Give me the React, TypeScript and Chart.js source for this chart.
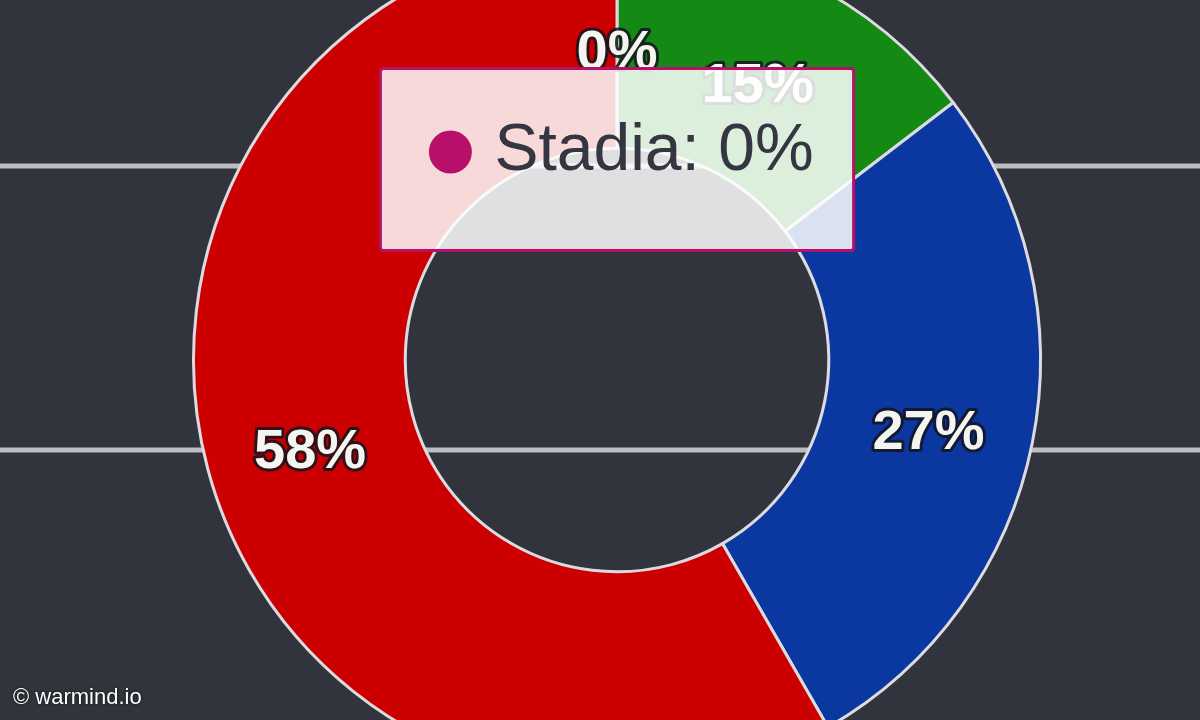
import React, { useEffect, useRef } from "react";
import { Chart, registerables } from "chart.js";

Chart.register(...registerables);

// ---- data ----
const platforms = ["Xbox", "PlayStation", "Steam", "Stadia"];
const shares = [14.6, 27.1, 58.3, 0];
const sliceColors = ["#148a14", "#0a37a0", "#cc0000", "#b8106a"];
const activePlatform = "Stadia";
const watermarkText = "© warmind.io";

const BG = "#32343d";

// background horizontal rules (canvas pixel rows), drawn beneath the ring
const backgroundRules = {
  id: "backgroundRules",
  beforeDatasetsDraw(chart: any) {
    const { ctx, width } = chart;
    const rows = [231, 515];
    ctx.save();
    ctx.strokeStyle = "#bcbcc2";
    ctx.lineWidth = 5;
    rows.forEach((y) => {
      ctx.beginPath();
      ctx.moveTo(0, y);
      ctx.lineTo(width, y);
      ctx.stroke();
    });
    ctx.restore();
  },
};

// percentage labels at the centre of each arc
const sliceLabels = {
  id: "sliceLabels",
  afterDatasetsDraw(chart: any) {
    const { ctx } = chart;
    const meta = chart.getDatasetMeta(0);
    const values = chart.data.datasets[0].data as number[];
    ctx.save();
    ctx.font = "bold 56px 'Liberation Sans', Arial, sans-serif";
    ctx.textAlign = "center";
    ctx.textBaseline = "middle";
    meta.data.forEach((arc: any, i: number) => {
      const p = arc.tooltipPosition();
      const text = `${Math.round(values[i])}%`;
      const y = p.y + 11;
      ctx.lineJoin = "round";
      ctx.lineWidth = 6;
      ctx.strokeStyle = "rgba(20,20,30,0.85)";
      ctx.strokeText(text, p.x, y);
      ctx.fillStyle = "#f4f4f0";
      ctx.fillText(text, p.x, y);
    });
    ctx.restore();
  },
};

function DoughnutChart() {
  const ref = useRef<HTMLCanvasElement | null>(null);

  useEffect(() => {
    document.body.style.margin = "0";
    document.body.style.background = BG;
    const canvas = ref.current;
    if (!canvas) return;
    const chart = new Chart(canvas, {
      type: "doughnut",
      data: {
        labels: platforms,
        datasets: [
          {
            data: shares,
            backgroundColor: sliceColors,
            hoverBackgroundColor: sliceColors,
            borderColor: "#dcdce0",
            hoverBorderColor: "#dcdce0",
            borderWidth: 3,
            hoverBorderWidth: 3,
            hoverOffset: 0,
          },
        ],
      },
      options: {
        responsive: false,
        animation: false,
        devicePixelRatio: 1,
        cutout: "50%",
        layout: { padding: 0 },
        events: [],
        plugins: {
          legend: { display: false },
          tooltip: {
            enabled: true,
            yAlign: "top",
            xAlign: "center",
            backgroundColor: "rgba(255,255,255,0.85)",
            borderColor: "#b8106a",
            borderWidth: 3,
            cornerRadius: 3,
            caretSize: 0,
            caretPadding: 26,
            bodyColor: "#363642",
            bodyFont: { family: "'Liberation Sans', Arial, sans-serif", size: 66 },
            padding: { top: 44, bottom: 59, left: 50, right: 40 },
            displayColors: true,
            usePointStyle: true,
            boxWidth: 40,
            boxHeight: 40,
            boxPadding: 22,
            callbacks: {
              title: () => "",
              label: (c: any) => `${c.label}: ${Math.round(c.parsed)}%`,
              labelColor: (c: any) => ({
                borderColor: sliceColors[c.dataIndex],
                backgroundColor: sliceColors[c.dataIndex],
              }),
            },
          },
        },
      },
      plugins: [backgroundRules, sliceLabels],
    });

    const idx = platforms.indexOf(activePlatform);
    chart.setActiveElements([{ datasetIndex: 0, index: idx }]);
    chart.tooltip?.setActiveElements([{ datasetIndex: 0, index: idx }], { x: 0, y: 0 });
    chart.update();

    return () => chart.destroy();
  }, []);

  return (
    <div
      style={{
        position: "relative",
        width: 1200,
        height: 720,
        overflow: "hidden",
        background: BG,
      }}
    >
      <canvas
        ref={ref}
        width={1234}
        height={850}
        style={{ position: "absolute", left: 0, top: -65, width: 1234, height: 850 }}
      />
      <div
        style={{
          position: "absolute",
          left: 13,
          top: 685,
          color: "#ffffff",
          fontFamily: "'Liberation Sans', Arial, sans-serif",
          fontSize: 22,
          lineHeight: "24px",
          textShadow: "0 0 3px rgba(0,0,0,0.8)",
        }}
      >
        {watermarkText}
      </div>
    </div>
  );
}

export default function App() {
  return <DoughnutChart />;
}
